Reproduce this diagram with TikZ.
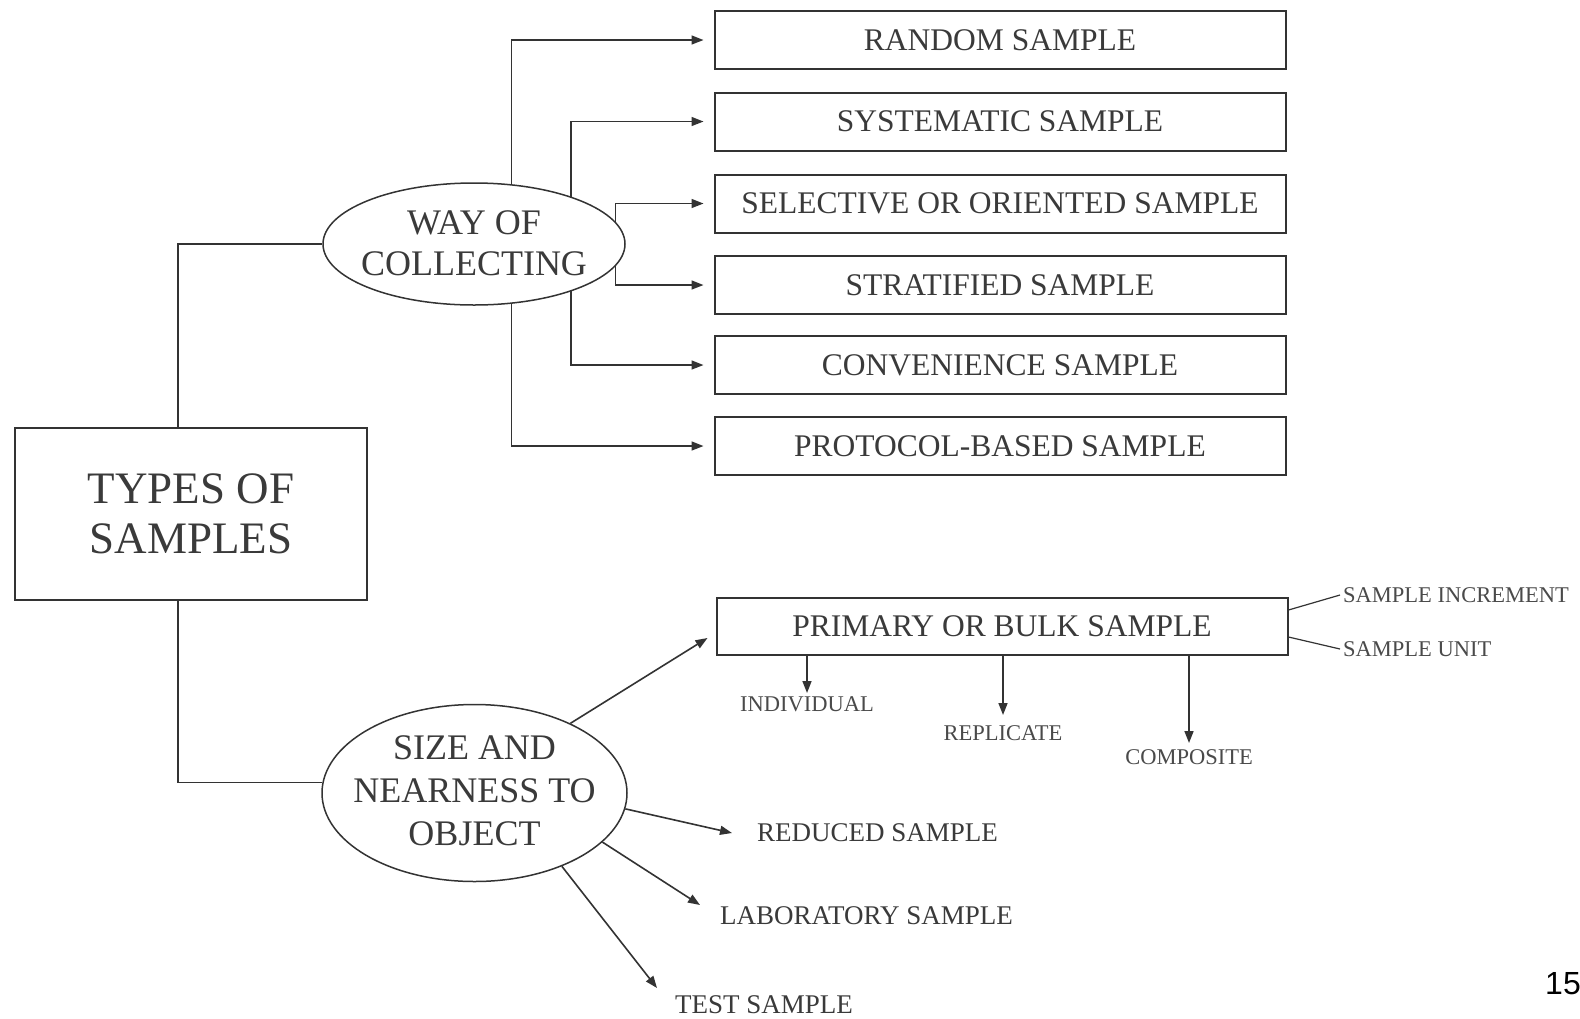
\documentclass[tikz,border=0pt]{standalone}
\usepackage{fontspec}
\setmainfont{Liberation Serif}
\newfontfamily\numfont{Liberation Sans}
\usetikzlibrary{shapes.geometric,arrows.meta}
\definecolor{ink}{HTML}{333333}
\definecolor{txt}{HTML}{3A3A3A}
\definecolor{lighttxt}{HTML}{4A4A4A}
\begin{document}
\begin{tikzpicture}[x=1pt,y=-1pt,
  every node/.style={text=txt},
  line/.style={draw=ink,line width=1.6pt},
  thinline/.style={draw=ink,line width=1.2pt},
  arr/.style={line,-{Triangle[length=12pt,width=9pt]}},
  sampbox/.style={draw=ink,line width=2pt,minimum width=571pt,minimum height=58pt,inner sep=0pt,font=\fontsize{31.5}{36}\selectfont},
  rootbox/.style={draw=ink,line width=1.6pt,minimum width=352pt,minimum height=172pt,inner sep=0pt,align=center,font=\fontsize{45}{50}\selectfont},
  oval/.style={ellipse,draw=ink,line width=1.5pt,inner sep=0pt},
  ovaltext/.style={inner sep=0pt,align=center,font=\fontsize{36}{41}\selectfont},
  lbl/.style={inner sep=0pt,font=\fontsize{27}{30}\selectfont},
  sublbl/.style={inner sep=0pt,text=lighttxt,font=\fontsize{22.5}{26}\selectfont}]
\useasboundingbox[fill=white] (0,0) rectangle (1580,1018);

% root
\node[rootbox] (types) at (191,514) {TYPES OF\\SAMPLES};

% ellipses
\node[oval,minimum width=302pt,minimum height=122pt] (way) at (474,244) {};
\node[ovaltext] (waytext) at (474,243) {WAY OF\\COLLECTING};
\node[oval,minimum width=305pt,minimum height=177pt] (size) at (474.5,793) {};
\node[ovaltext,font=\fontsize{36}{43}\selectfont] (sizetext) at (474.5,791) {SIZE AND\\NEARNESS TO\\OBJECT};

% right boxes
\node[sampbox] (random) at (1000,40) {RANDOM SAMPLE};
\node[sampbox] (systematic) at (1000,121.5) {SYSTEMATIC SAMPLE};
\node[sampbox] (selective) at (1000,203.5) {SELECTIVE OR ORIENTED SAMPLE};
\node[sampbox] (stratified) at (1000,285) {STRATIFIED SAMPLE};
\node[sampbox] (convenience) at (1000,365) {CONVENIENCE SAMPLE};
\node[sampbox] (protocol) at (1000,446) {PROTOCOL-BASED SAMPLE};

\node[sampbox,minimum height=57pt] (primary) at (1002,626) {PRIMARY OR BULK SAMPLE};

% sub labels
\node[sublbl] (indiv) at (807,704) {INDIVIDUAL};
\node[sublbl] (repl) at (1003,733) {REPLICATE};
\node[sublbl] (comp) at (1189,757) {COMPOSITE};
\node[sublbl,anchor=west] (incr) at (1343,595) {SAMPLE INCREMENT};
\node[sublbl,anchor=west] (unit) at (1343,649) {SAMPLE UNIT};

% lower labels
\node[lbl,anchor=west] (reduced) at (757,833) {REDUCED SAMPLE};
\node[lbl,anchor=west] (lab) at (720,916) {LABORATORY SAMPLE};
\node[lbl,anchor=west] (test) at (675,1005) {TEST SAMPLE};

% page number
\node[anchor=west,inner sep=0pt,text=black,font=\numfont\fontsize{32}{36}\selectfont] (pg) at (1545,984) {15};

% root connectors
\draw[line] ([xshift=-13pt]types.north) |- (way.west);
\draw[line] ([xshift=-13pt]types.south) |- (size.176.5);

% way of collecting connectors
\draw[arr,shorten >=10pt] (way.58.7) |- (random.west);
\draw[arr,shorten >=10pt] (way.26.9) |- (systematic.west);
\draw[arr,shorten >=10pt] (way.9) |- (selective.west);
\draw[arr,shorten >=10pt] (way.-9) |- (stratified.west);
\draw[arr,shorten >=10pt] (way.-26.9) |- (convenience.west);
\draw[arr,shorten >=10pt] (way.-58.7) |- (protocol.west);

% size connectors
\draw[arr] (size.36.3) -- ([xshift=-8pt,yshift=-12pt]primary.west);
\draw[arr] (size.-6) -- ([xshift=-25pt]reduced.west);
\draw[arr] (size.-21.7) -- ([xshift=-20pt,yshift=11pt]lab.west);
\draw[arr] (size.-40) -- ([xshift=-18pt,yshift=17pt]test.west);

% primary connectors
\draw[arr] (primary.south -| indiv) -- ([yshift=11pt]indiv.center);
\draw[arr] (primary.south -| repl) -- ([yshift=18pt]repl.center);
\draw[arr] (primary.south -| comp) -- ([yshift=14pt]comp.center);
\draw[thinline] ([yshift=16pt]primary.east) -- ([xshift=-3pt]incr.west);
\draw[thinline] ([yshift=-11pt]primary.east) -- ([xshift=-3pt]unit.west);
\end{tikzpicture}
\end{document}
